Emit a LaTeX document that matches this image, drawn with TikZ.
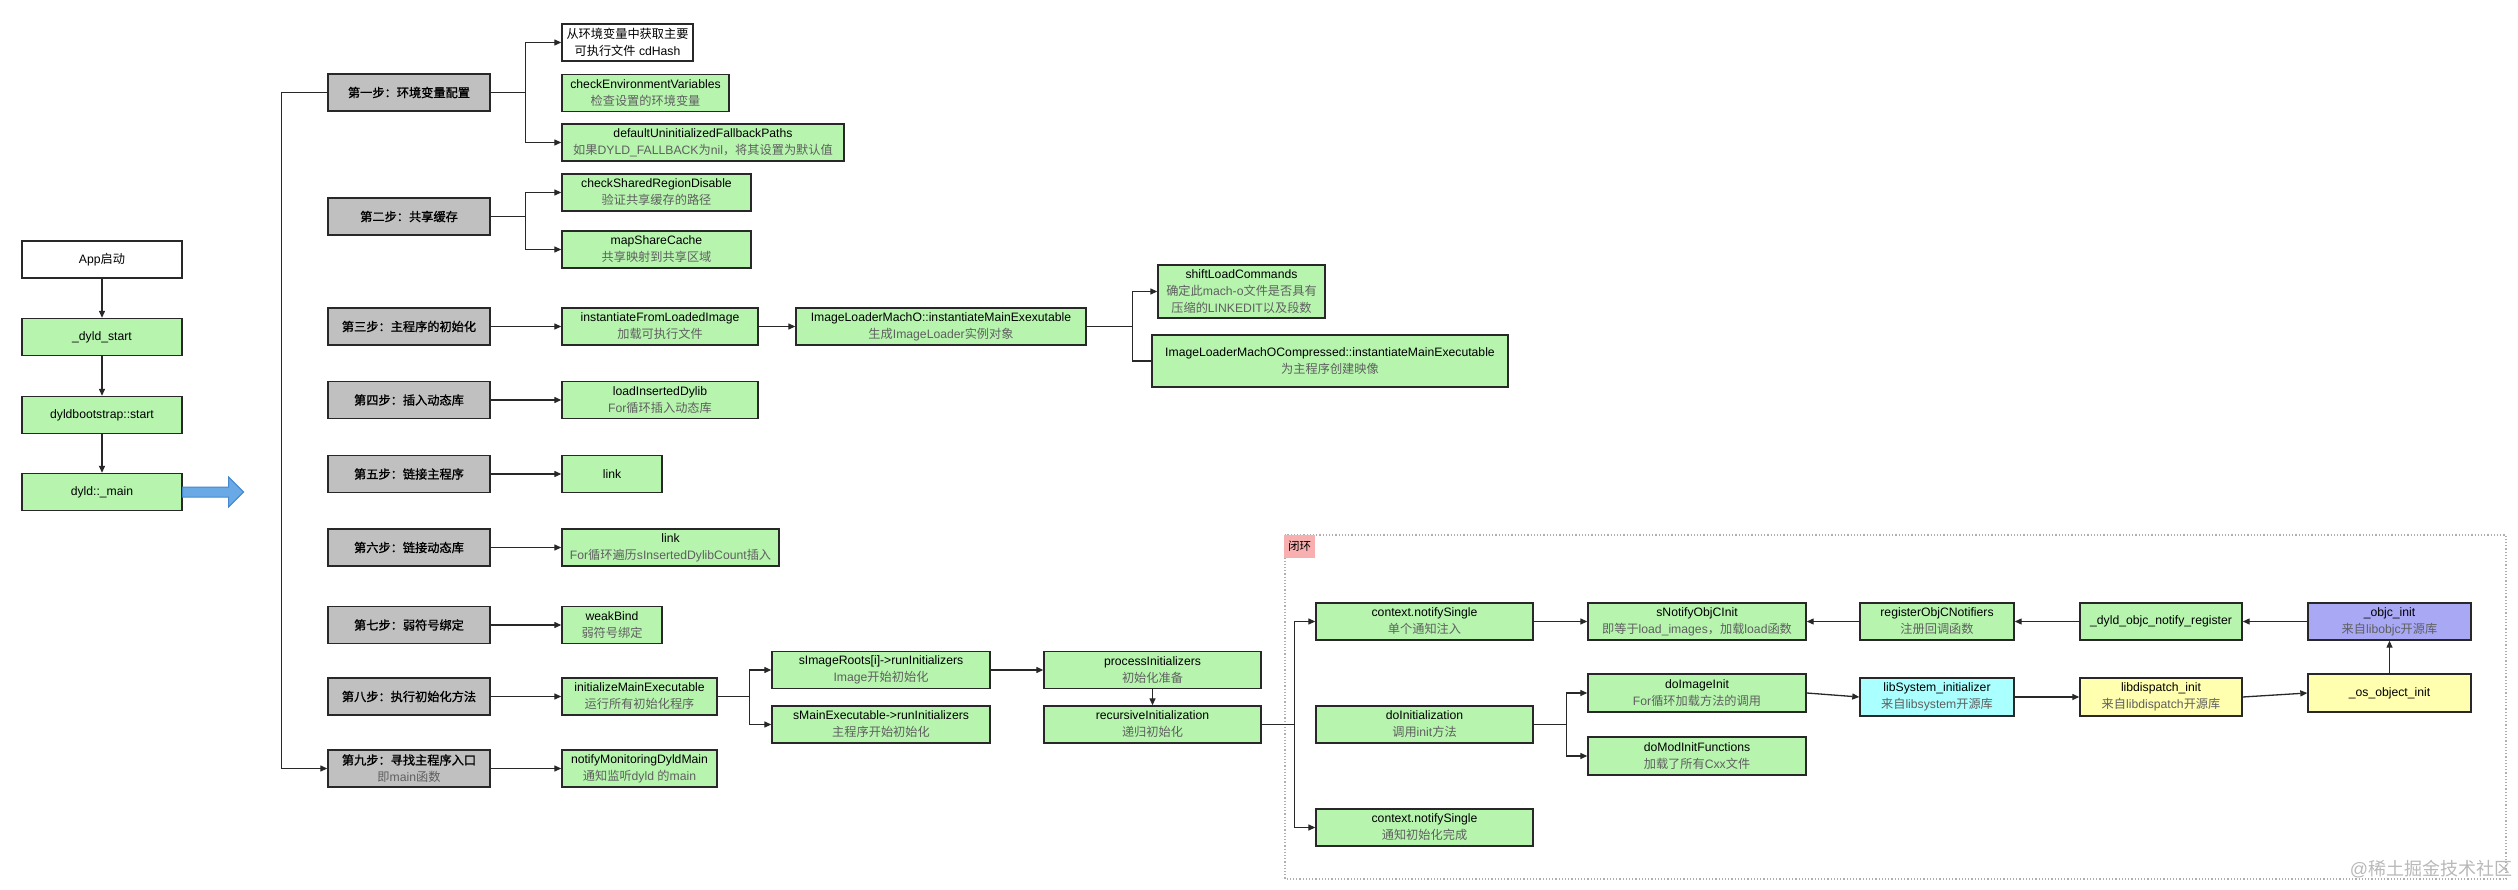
\documentclass[tikz,border=0pt]{standalone}
\usepackage{fontspec}
\setmainfont{Liberation Sans}
\newfontfamily\enfont{Liberation Sans}
\newfontfamily\zhfont{Noto Sans CJK SC}[BoldFont={Noto Sans CJK SC}, BoldFeatures={FakeBold=1.2}]
% switch to the CJK font for Chinese runs
\XeTeXinterchartokenstate=1
\newXeTeXintercharclass\zhclass
\newcount\zhcount
\def\zhrange#1#2{\zhcount=#1\relax
  \loop\XeTeXcharclass\zhcount=\zhclass\relax
  \ifnum\zhcount<#2\relax\advance\zhcount by 1\repeat}
\zhrange{"3000}{"303F}
\zhrange{"4E00}{"9FFF}
\zhrange{"FF00}{"FFEF}
\XeTeXinterchartoks 0 \zhclass = {\zhfont}
\XeTeXinterchartoks 4095 \zhclass = {\zhfont}
\XeTeXinterchartoks \zhclass 0 = {\enfont}
\XeTeXinterchartoks \zhclass 4095 = {\enfont}
\usepackage{xcolor}
\usepackage{tikz}
\usetikzlibrary{arrows.meta}
\definecolor{mygreen}{RGB}{183,245,175}
\definecolor{mygray}{RGB}{192,192,192}
\definecolor{mypurple}{RGB}{168,168,245}
\definecolor{mycyan}{RGB}{170,255,255}
\definecolor{myyellow}{RGB}{255,255,175}
\definecolor{mypink}{RGB}{248,175,175}
\definecolor{myline}{RGB}{40,40,40}
\definecolor{mysub}{RGB}{95,95,95}
\definecolor{myblue}{RGB}{105,170,230}
\definecolor{myblueline}{RGB}{70,135,205}
\definecolor{myframe}{RGB}{175,175,175}
\definecolor{mymark}{RGB}{185,185,185}
\tikzset{
  box/.style={rectangle, draw=myline, line width=1.4pt, inner sep=0pt,
    minimum height=37pt, align=center, font=\fontsize{12.2}{17}\selectfont},
  greenbox/.style={box, fill=mygreen},
  whitebox/.style={box, fill=white},
  purplebox/.style={box, fill=mypurple},
  cyanbox/.style={box, fill=mycyan},
  yellowbox/.style={box, fill=myyellow},
  stepbox/.style={box, fill=mygray, minimum width=162pt,
    font=\fontsize{12.2}{17}\selectfont\bfseries},
  arrow/.style={-{Triangle[length=7pt,width=6pt]}, line width=1.3pt, color=myline},
  line/.style={line width=1.3pt, color=myline},
  bigarrow/.style={draw=myblueline, fill=myblue, line width=1pt},
  loopframe/.style={draw=myframe, dotted, line width=1.2pt},
  looplabel/.style={rectangle, fill=mypink, inner sep=0pt, minimum width=31pt,
    minimum height=23pt, font=\fontsize{11.5}{14}\selectfont},
  watermark/.style={font=\fontsize{18}{20}\selectfont, text=mymark}
}
\newcommand{\subtxt}[1]{{\mdseries\color{mysub}#1}}

\begin{document}
\begin{tikzpicture}[x=1pt, y=-1pt]
  \fill[white] (0,0) rectangle (2518,890);
  \useasboundingbox (0,0) rectangle (2518,890);

  % start chain
  \node[whitebox, minimum width=160pt] (app) at (102,259.5) {App启动};
  \node[greenbox, minimum width=160pt] (dstart) at (102,337) {\_dyld\_start};
  \node[greenbox, minimum width=160pt] (boot) at (102,415) {dyldbootstrap::start};
  \node[greenbox, minimum width=160pt] (main) at (102,492) {dyld::\_main};
  \draw[arrow] (app) -- (dstart);
  \draw[arrow] (dstart) -- (boot);
  \draw[arrow] (boot) -- (main);
  \draw[bigarrow] (main.east) ++(0,-5) -- ++(46,0) -- ++(0,-10) -- ++(15,15)
    -- ++(-15,15) -- ++(0,-10) -- ++(-46,0) -- cycle;

  % steps of dyld::_main
  \node[stepbox] (s1) at (409,92.5) {第一步：环境变量配置};
  \node[stepbox] (s2) at (409,216.5) {第二步：共享缓存};
  \node[stepbox] (s3) at (409,326.5) {第三步：主程序的初始化};
  \node[stepbox] (s4) at (409,400) {第四步：插入动态库};
  \node[stepbox] (s5) at (409,474) {第五步：链接主程序};
  \node[stepbox] (s6) at (409,547.5) {第六步：链接动态库};
  \node[stepbox] (s7) at (409,625) {第七步：弱符号绑定};
  \node[stepbox] (s8) at (409,696.5) {第八步：执行初始化方法};
  \node[stepbox] (s9) at (409,768.5) {第九步：寻找主程序入口\\\subtxt{即main函数}};
  \draw[arrow] (s1.west) -- ++(-46,0) |- (s9.west);

  % step 1
  \node[whitebox, minimum width=131pt] (envHash) at (627.5,42.5) {从环境变量中获取主要\\可执行文件 cdHash};
  \node[greenbox, minimum width=167pt] (checkEnv) at (645.5,93) {checkEnvironmentVariables\\\subtxt{检查设置的环境变量}};
  \node[greenbox, minimum width=282pt] (fallback) at (703,142.5) {defaultUninitializedFallbackPaths\\\subtxt{如果DYLD\_FALLBACK为nil，将其设置为默认值}};
  \draw[line] (s1.east) -- ++(35,0) coordinate (fork1);
  \draw[arrow] (fork1) |- (envHash.west);
  \draw[arrow] (fork1) |- (fallback.west);

  % step 2
  \node[greenbox, minimum width=189pt] (sharedReg) at (656.5,192.5) {checkSharedRegionDisable\\\subtxt{验证共享缓存的路径}};
  \node[greenbox, minimum width=189pt] (mapCache) at (656.5,249.5) {mapShareCache\\\subtxt{共享映射到共享区域}};
  \draw[line] (s2.east) -- ++(35,0) coordinate (fork2);
  \draw[arrow] (fork2) |- (sharedReg.west);
  \draw[arrow] (fork2) |- (mapCache.west);

  % step 3
  \node[greenbox, minimum width=196pt] (fromLoaded) at (660,326.5) {instantiateFromLoadedImage\\\subtxt{加载可执行文件}};
  \node[greenbox, minimum width=290pt] (machO) at (941,326.5) {ImageLoaderMachO::instantiateMainExexutable\\\subtxt{生成ImageLoader实例对象}};
  \node[greenbox, minimum width=167pt, minimum height=53pt] (shiftLoad) at (1241.5,291.5) {shiftLoadCommands\\\subtxt{确定此mach-o文件是否具有}\\\subtxt{压缩的LINKEDIT以及段数}};
  \node[greenbox, minimum width=356pt, minimum height=52pt] (compressed) at (1330,361) {ImageLoaderMachOCompressed::instantiateMainExecutable\\\subtxt{为主程序创建映像}};
  \draw[arrow] (s3) -- (fromLoaded);
  \draw[arrow] (fromLoaded) -- (machO);
  \draw[line] (machO.east) -- ++(46,0) coordinate (fork3);
  \draw[arrow] (fork3) |- (shiftLoad.west);
  \draw[line] (fork3) |- (compressed.west);

  % steps 4 to 7
  \node[greenbox, minimum width=196pt] (loadDylib) at (660,400) {loadInsertedDylib\\\subtxt{For循环插入动态库}};
  \node[greenbox, minimum width=100pt] (link1) at (612,474) {link};
  \node[greenbox, minimum width=217pt] (link2) at (670.5,547.5) {link\\\subtxt{For循环遍历sInsertedDylibCount插入}};
  \node[greenbox, minimum width=100pt] (weakBind) at (612,625) {weakBind\\\subtxt{弱符号绑定}};
  \draw[arrow] (s4) -- (loadDylib);
  \draw[arrow] (s5) -- (link1);
  \draw[arrow] (s6) -- (link2);
  \draw[arrow] (s7) -- (weakBind);

  % step 8
  \node[greenbox, minimum width=155pt] (initMain) at (639.5,696.5) {initializeMainExecutable\\\subtxt{运行所有初始化程序}};
  \node[greenbox, minimum width=218pt] (imageRoots) at (881,670) {sImageRoots[i]->runInitializers\\\subtxt{Image开始初始化}};
  \node[greenbox, minimum width=218pt] (mainExec) at (881,724.5) {sMainExecutable->runInitializers\\\subtxt{主程序开始初始化}};
  \node[greenbox, minimum width=217pt] (procInit) at (1152.5,670) {processInitializers\\\subtxt{初始化准备}};
  \node[greenbox, minimum width=217pt] (recInit) at (1152.5,724.5) {recursiveInitialization\\\subtxt{递归初始化}};
  \draw[arrow] (s8) -- (initMain);
  \draw[line] (initMain.east) -- ++(32,0) coordinate (fork4);
  \draw[arrow] (fork4) |- (imageRoots.west);
  \draw[arrow] (fork4) |- (mainExec.west);
  \draw[arrow] (imageRoots) -- (procInit);
  \draw[arrow] (procInit) -- (recInit);

  % step 9
  \node[greenbox, minimum width=155pt] (notifyMon) at (639.5,768.5) {notifyMonitoringDyldMain\\\subtxt{通知监听dyld 的main}};
  \draw[arrow] (s9) -- (notifyMon);

  % closed loop
  \draw[loopframe] (1285,535) rectangle (2506,879);
  \node[looplabel] (loopTag) at (1299.5,546.5) {闭环};
  \node[greenbox, minimum width=217pt] (notify1) at (1424.5,621.5) {context.notifySingle\\\subtxt{单个通知注入}};
  \node[greenbox, minimum width=217pt] (doInit) at (1424.5,724.5) {doInitialization\\\subtxt{调用init方法}};
  \node[greenbox, minimum width=217pt] (notify2) at (1424.5,827.5) {context.notifySingle\\\subtxt{通知初始化完成}};
  \node[greenbox, minimum width=218pt] (sNotify) at (1697,621.5) {sNotifyObjCInit\\\subtxt{即等于load\_images，加载load函数}};
  \node[greenbox, minimum width=154pt] (registerNot) at (1937,621.5) {registerObjCNotifiers\\\subtxt{注册回调函数}};
  \node[greenbox, minimum width=162pt] (dyldReg) at (2161,621.5) {\_dyld\_objc\_notify\_register};
  \node[purplebox, minimum width=163pt] (objcInit) at (2389.5,621.5) {\_objc\_init\\\subtxt{来自libobjc开源库}};
  \node[greenbox, minimum width=218pt, minimum height=38pt] (doImageInit) at (1697,693) {doImageInit\\\subtxt{For循环加载方法的调用}};
  \node[greenbox, minimum width=218pt, minimum height=38pt] (doModInit) at (1697,756) {doModInitFunctions\\\subtxt{加载了所有Cxx文件}};
  \node[cyanbox, minimum width=154pt, minimum height=38pt] (libSystem) at (1937,697) {libSystem\_initializer\\\subtxt{来自libsystem开源库}};
  \node[yellowbox, minimum width=162pt, minimum height=38pt] (libDispatch) at (2161,697) {libdispatch\_init\\\subtxt{来自libdispatch开源库}};
  \node[yellowbox, minimum width=163pt, minimum height=38pt] (osObject) at (2389.5,693) {\_os\_object\_init};

  \draw[line] (recInit.east) -- ++(33,0) coordinate (fork5);
  \draw[arrow] (fork5) |- (notify1.west);
  \draw[arrow] (fork5) |- (notify2.west);
  \draw[arrow] (notify1) -- (sNotify);
  \draw[arrow] (registerNot) -- (sNotify);
  \draw[arrow] (dyldReg) -- (registerNot);
  \draw[arrow] (objcInit) -- (dyldReg);
  \draw[arrow] (osObject) -- (objcInit);
  \draw[line] (doInit.east) -- ++(33,0) coordinate (fork6);
  \draw[arrow] (fork6) |- (doImageInit.west);
  \draw[arrow] (fork6) |- (doModInit.west);
  \draw[arrow] (doImageInit.east) -- (libSystem.west);
  \draw[arrow] (libSystem.east) -- (libDispatch.west);
  \draw[arrow] (libDispatch.east) -- (osObject.west);

  \node[watermark] (mark) at (2431,869) {@稀土掘金技术社区};
\end{tikzpicture}
\end{document}
